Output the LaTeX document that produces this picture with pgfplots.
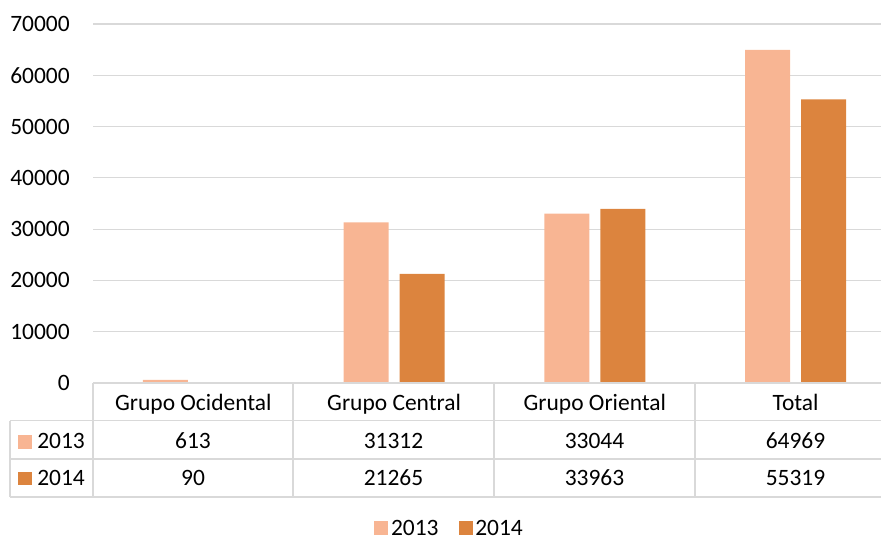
\documentclass[border=0pt]{standalone}
\usepackage{pgfplots}
\pgfplotsset{compat=1.18}
\usepackage{pgfplotstable}
\usepackage{fontspec}
\setmainfont{Carlito}
\definecolor{c13}{HTML}{F8B593}
\definecolor{c14}{HTML}{DC843E}
\definecolor{gridc}{HTML}{D9D9D9}
\newcommand\cf{\fontsize{17.6}{21}\selectfont}
\pgfplotstableread{
x y13 y14
0 613 90
1 31312 21265
2 33044 33963
3 64969 55319
}\datatab
\begin{document}
\begin{tikzpicture}[x=0.75pt,y=0.75pt]
\begin{axis}[
  at={(69.75pt,117.75pt)}, anchor=south west,
  scale only axis, width=602.25pt, height=269.25pt,
  xmin=-0.5, xmax=3.5, ymin=0, ymax=70000,
  ytick={0,10000,...,70000},
  scaled y ticks=false,
  xtick={0,1,2,3},
  xticklabels={Grupo Ocidental, Grupo Central, Grupo Oriental, Total},
  ymajorgrids, grid style={gridc, line width=0.9pt},
  axis line style={draw=none},
  major tick length=0pt,
  tick label style={font=\cf},
  xticklabel style={anchor=base, inner sep=0pt, yshift=-20.25pt},
  yticklabel style={anchor=east, inner sep=0pt, xshift=-17.25pt},
  /pgf/number format/assume math mode=true,
  /pgf/number format/1000 sep={},
  clip=false,
  legend columns=2,
  legend style={at={(0.4445,-0.405)}, anchor=center, draw=none, font=\cf,
    /tikz/every even column/.append style={column sep=13pt},
    inner sep=0pt},
]
\addplot[ybar, bar width=33.75pt, bar shift=-21pt, fill=c13, draw=none,
  legend image code/.code={\fill[c13] (0pt,-5.25pt) rectangle (10.5pt,5.25pt);}] table[x=x, y=y13] {\datatab};
\addlegendentry{2013}
\addplot[ybar, bar width=33.75pt, bar shift=21pt, fill=c14, draw=none,
  legend image code/.code={\fill[c14] (0pt,-5.25pt) rectangle (10.5pt,5.25pt);}] table[x=x, y=y14] {\datatab};
\addlegendentry{2014}
\end{axis}
% data table grid
\draw[gridc, line width=1.1pt] (93,157) -- (900,157);
\draw[gridc, line width=1.1pt] (10,119.5) -- (900,119.5);
\draw[gridc, line width=1.1pt] (10,81) -- (900,81);
\draw[gridc, line width=1.1pt] (10,43) -- (900,43);
\draw[gridc, line width=1.1pt] (10,119.5) -- (10,43);
\foreach \xx in {93,293,494,695} {\draw[gridc, line width=1.1pt] (\xx,157) -- (\xx,43);}
% row headers
\fill[c13] (18,105) rectangle (32,91.5);
\fill[c14] (18,68.5) rectangle (32,55);
\node[anchor=base west, inner sep=0pt, font=\cf] at (37,92) {2013};
\node[anchor=base west, inner sep=0pt, font=\cf] at (37,55) {2014};
% values
\node[anchor=base, inner sep=0pt, font=\cf] at (193,92) {613};
\node[anchor=base, inner sep=0pt, font=\cf] at (393.5,92) {31312};
\node[anchor=base, inner sep=0pt, font=\cf] at (594.5,92) {33044};
\node[anchor=base, inner sep=0pt, font=\cf] at (795.5,92) {64969};
\node[anchor=base, inner sep=0pt, font=\cf] at (193,55) {90};
\node[anchor=base, inner sep=0pt, font=\cf] at (393.5,55) {21265};
\node[anchor=base, inner sep=0pt, font=\cf] at (594.5,55) {33963};
\node[anchor=base, inner sep=0pt, font=\cf] at (795.5,55) {55319};
\pgfresetboundingbox
\useasboundingbox (0,0) rectangle (881,540);
\end{tikzpicture}
\end{document}
